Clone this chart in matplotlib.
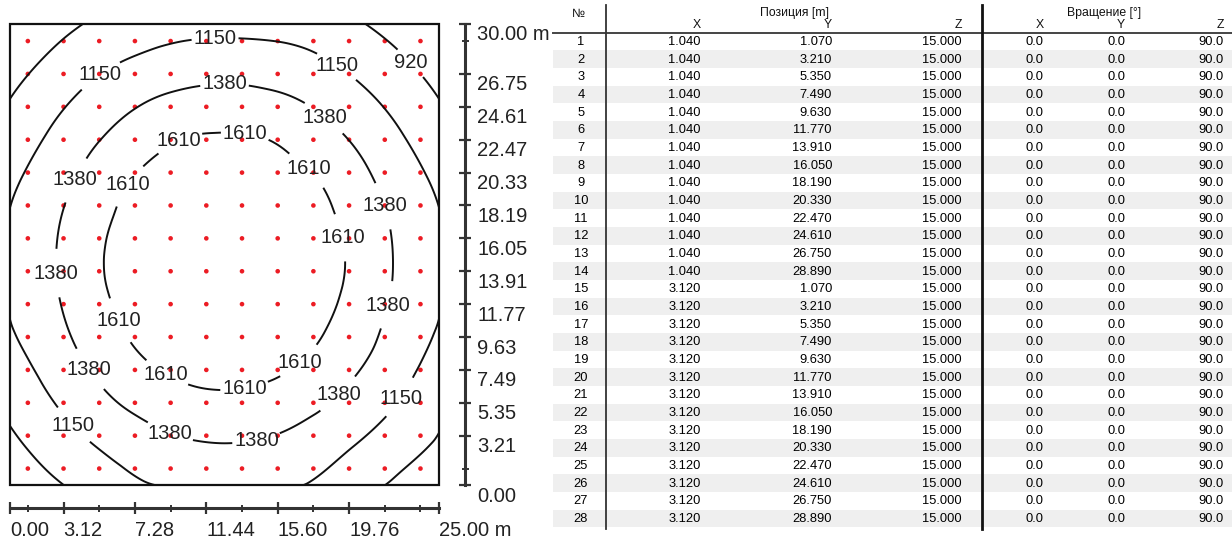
import matplotlib
matplotlib.use('Agg')
import matplotlib.pyplot as plt
import matplotlib.tri as mtri
import matplotlib.transforms as mtransforms
from matplotlib.patches import Rectangle
from matplotlib.lines import Line2D
import numpy as np

plt.rcParams['font.family'] = ['Liberation Sans', 'DejaVu Sans']

# ---------------- data ----------------
lum_x = [1.04, 3.12, 5.20, 7.28, 9.36, 11.44, 13.52, 15.60, 17.68, 19.76, 21.84, 23.92]
lum_y = [1.07, 3.21, 5.35, 7.49, 9.63, 11.77, 13.91, 16.05, 18.19, 20.33, 22.47, 24.61, 26.75, 28.89]

grid_x = [0.0, 2.5, 5.0, 7.5, 10.0, 12.5, 15.0, 17.5, 20.0, 22.5, 25.0]
grid_y = [0.0, 2.5, 5.0, 7.5, 10.0, 12.5, 15.0, 17.5, 20.0, 22.5, 25.0, 27.5, 30.0]
# estimated illuminance [lx] (rows = grid_y, cols = grid_x)
illum = [
    [751, 890, 1010, 1130, 1164, 1186, 1164, 1140, 1010, 890, 751],
    [864, 1016, 1150, 1263, 1338, 1364, 1338, 1263, 1150, 1016, 890],
    [963, 1129, 1287, 1418, 1509, 1542, 1509, 1418, 1287, 1140, 963],
    [1044, 1229, 1407, 1562, 1647, 1669, 1647, 1562, 1407, 1240, 1050],
    [1135, 1306, 1502, 1651, 1718, 1740, 1718, 1651, 1502, 1306, 1135],
    [1165, 1352, 1562, 1691, 1758, 1780, 1758, 1691, 1562, 1352, 1165],
    [1170, 1363, 1577, 1701, 1767, 1789, 1767, 1701, 1577, 1363, 1170],
    [1158, 1338, 1543, 1679, 1746, 1768, 1746, 1679, 1543, 1338, 1158],
    [1105, 1278, 1468, 1627, 1693, 1715, 1693, 1627, 1468, 1278, 1105],
    [1014, 1191, 1361, 1507, 1610, 1632, 1610, 1507, 1361, 1191, 1014],
    [925, 1086, 1233, 1357, 1441, 1471, 1441, 1357, 1233, 1086, 925],
    [820, 967, 1095, 1185, 1245, 1265, 1250, 1199, 1095, 967, 820],
    [703, 837, 951, 1030, 1075, 1090, 1080, 1040, 951, 837, 703],
]
contour_levels = [920, 1150, 1380, 1610]

x_major = [0.00, 3.12, 7.28, 11.44, 15.60, 19.76, 25.00]
x_major_labels = ['0.00', '3.12', '7.28', '11.44', '15.60', '19.76', '25.00 m']
x_minor = [1.04, 5.20, 9.36, 13.52, 17.68, 21.84, 23.92]
y_major = [0.00, 3.21, 5.35, 7.49, 9.63, 11.77, 13.91, 16.05, 18.19, 20.33, 22.47, 24.61, 26.75, 30.00]
y_major_labels = ['0.00', '3.21', '5.35', '7.49', '9.63', '11.77', '13.91', '16.05', '18.19',
                  '20.33', '22.47', '24.61', '26.75', '30.00 m']
y_minor = [1.07, 28.89]

# isoline label anchor points (data coords)
label_xy = [(11.95, 28.8), (5.24, 26.7), (19.2, 27.5), (23.0, 27.1), (12.5, 26.2), (18.6, 24.3),
            (9.9, 22.3), (13.7, 22.8), (17.4, 20.6), (3.5, 20.0), (6.9, 19.5), (21.9, 18.2),
            (19.3, 16.1), (3.0, 13.8), (22.4, 11.6), (6.4, 10.7), (4.2, 7.2), (9.0, 7.0),
            (13.7, 6.1), (17.2, 7.6), (19.5, 5.5), (23.0, 5.5), (3.5, 3.7), (9.2, 3.1), (14.4, 2.7)]

# table (first 28 luminaires)
table_x = lum_x[:2]
table_y = lum_y
pos_z = 15.0
rot_x, rot_y, rot_z = 0.0, 0.0, 90.0
headers_group = ['Позиция [m]', 'Вращение [°]']
sub_headers = ['X', 'Y', 'Z', 'X', 'Y', 'Z']

# ---------------- figure ----------------
W, H = 1232, 541
DPI = 100
PT = 72.0 / DPI  # points per pixel
fig = plt.figure(figsize=(W / DPI, H / DPI), dpi=DPI)

def fx(px):
    return px / W

def fy(py):
    return 1 - py / H

ax_l, ax_r, ax_t, ax_b = 10, 439, 24, 485
ax = fig.add_axes([fx(ax_l), fy(ax_b), (ax_r - ax_l) / W, (ax_b - ax_t) / H])
ax.set_xlim(0, 25)
ax.set_ylim(0, 30)

# isolines
GX, GY = np.meshgrid(grid_x, grid_y)
Z = np.array(illum, dtype=float)
tri = mtri.Triangulation(GX.ravel(), GY.ravel())
interp = mtri.CubicTriInterpolator(tri, Z.ravel(), kind='min_E')
refiner = mtri.UniformTriRefiner(tri)
tri_f, z_f = refiner.refine_field(Z.ravel(), triinterpolator=interp, subdiv=4)
cs = ax.tricontour(tri_f, z_f, levels=contour_levels, colors='#111111', linewidths=1.4, zorder=3)

# luminaires
LX, LY = np.meshgrid(lum_x, lum_y)
ax.scatter(LX.ravel(), LY.ravel(), s=11, color='#ec1c24', edgecolors='none', zorder=2)

labels = ax.clabel(cs, levels=contour_levels, manual=label_xy, inline=True, inline_spacing=2,
                   fmt='%d', fontsize=14.5, colors='#222222')
for t in labels:
    t.set_rotation(0)
    t.set_zorder(4)

# frame
ax.add_patch(Rectangle((0, 0), 1, 1, transform=ax.transAxes, fill=False, lw=1.6,
                       ec='#111111', clip_on=False, zorder=6))

# rulers
for s in ['left', 'top']:
    ax.spines[s].set_visible(False)
ax.spines['bottom'].set_position(('outward', 23 * PT))
ax.spines['right'].set_position(('outward', 26 * PT))
for s in ['bottom', 'right']:
    ax.spines[s].set_linewidth(2.2)
    ax.spines[s].set_color('#333333')
ax.yaxis.tick_right()
ax.set_xticks(x_major)
ax.set_xticks(x_minor, minor=True)
ax.set_yticks(y_major)
ax.set_yticks(y_minor, minor=True)
ax.tick_params(which='major', direction='inout', length=12 * PT, width=1.6, color='#333333',
               labelbottom=False, labelright=False, labelleft=False)
ax.tick_params(which='minor', direction='inout', length=7 * PT, width=1.4, color='#333333')

tick_font = dict(fontsize=14.5, color='#222222')
tx = mtransforms.blended_transform_factory(ax.transData, ax.transAxes)
for xv, lab in zip(x_major, x_major_labels):
    ax.text(xv, (ax_b - 530) / (ax_b - ax_t), lab, transform=tx, ha='left', va='center',
            **tick_font)
ty = mtransforms.blended_transform_factory(ax.transAxes, ax.transData) + \
    mtransforms.ScaledTranslation(0, -11 / DPI, fig.dpi_scale_trans)
for yv, lab in zip(y_major, y_major_labels):
    ax.text((477 - ax_l) / (ax_r - ax_l), yv, lab, transform=ty, ha='left', va='center',
            **tick_font)

# ---------------- table ----------------
row0, dy = 42.0, 17.67
rows = []
n = 1
for xv in table_x:
    for yv in table_y:
        rows.append((n, xv, yv, pos_z, rot_x, rot_y, rot_z))
        n += 1

for i in range(len(rows)):
    if i % 2 == 1:
        yc = row0 + i * dy
        fig.add_artist(Rectangle((fx(553), fy(yc + 8.2)), 1 - fx(553), (17.7) / H,
                                 transform=fig.transFigure, fc='#efefef', ec='none', zorder=0))

fig.add_artist(Line2D([fx(553), 1.0], [fy(33), fy(33)], transform=fig.transFigure,
                      color='#444444', lw=1.4, zorder=2))
fig.add_artist(Line2D([fx(606), fx(606)], [fy(5), fy(529)], transform=fig.transFigure,
                      color='#333333', lw=1.3, zorder=2))
fig.add_artist(Line2D([fx(982), fx(982)], [fy(5), fy(529)], transform=fig.transFigure,
                      color='#111111', lw=2.0, zorder=2))

hfont = dict(fontsize=8.8, color='#111111')
fig.text(fx(578), fy(14), '№', ha='center', va='center', **hfont)
fig.text(fx(795), fy(13), headers_group[0], ha='center', va='center', **hfont)
fig.text(fx(1104), fy(13), headers_group[1], ha='center', va='center', **hfont)
col_right = [701, 832, 962, 1044, 1125, 1224]
for cx, h in zip(col_right, sub_headers):
    fig.text(fx(cx), fy(25), h, ha='right', va='center', **hfont)

nfont = dict(fontsize=9.3, color='#000000')
for i, (num, px_, py_, pz_, rx_, ry_, rz_) in enumerate(rows):
    yc = fy(row0 + i * dy)
    fig.text(fx(581), yc, str(num), ha='center', va='center', **nfont)
    vals = [f'{px_:.3f}', f'{py_:.3f}', f'{pz_:.3f}', f'{rx_:.1f}', f'{ry_:.1f}', f'{rz_:.1f}']
    for cx, v in zip(col_right, vals):
        fig.text(fx(cx), yc, v, ha='right', va='center', **nfont)

fig.savefig('out.png', dpi=DPI)
